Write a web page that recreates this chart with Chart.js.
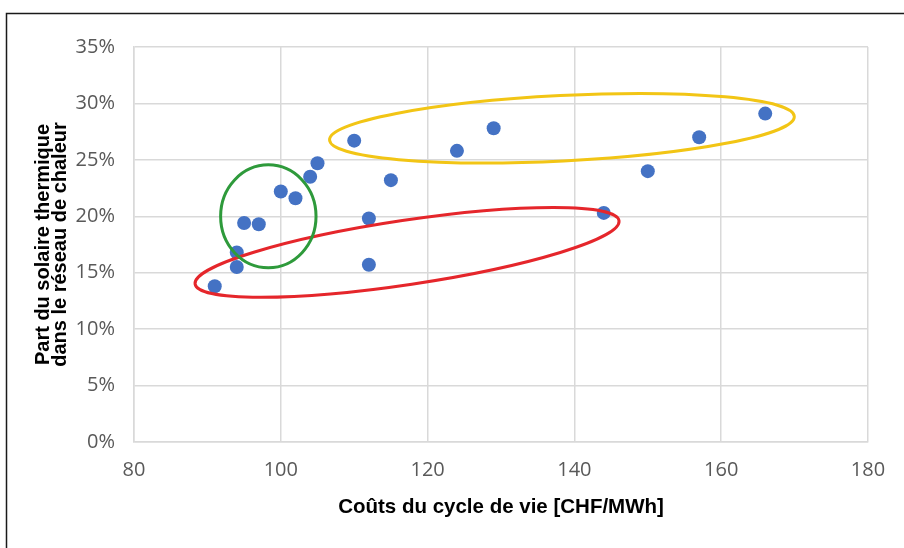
<!DOCTYPE html>
<html>
<head>
<meta charset="utf-8">
<script src="https://cdn.jsdelivr.net/npm/chart.js@4.4.0/dist/chart.umd.min.js"></script>
<style>
  html, body { margin: 0; padding: 0; background: #fff; }
  #wrap { width: 904px; height: 548px; }
</style>
</head>
<body>
<div id="wrap"><canvas id="scatterCanvas" width="904" height="548"></canvas></div>
<script>
/* --- DATA --- */
// Life-cycle cost [CHF/MWh] and solar share [%] per network
const costs = [91, 94, 94, 95, 97, 100, 102, 104, 105, 110, 112, 112, 115, 124, 129, 144, 150, 157, 166];
const solarShare = [13.8, 15.5, 16.8, 19.4, 19.3, 22.2, 21.6, 23.5, 24.7, 26.7, 19.8, 15.7, 23.2, 25.8, 27.8, 20.3, 24.0, 27.0, 29.1];

const xTicks = [80, 100, 120, 140, 160, 180];
const yTicks = [0, 5, 10, 15, 20, 25, 30, 35];

// Hand-drawn groups (in data units): yellow, red, green
const groupCx = [138.3, 117.2, 98.3];
const groupCy = [27.8, 16.8, 20.0];
const groupRx = [31.7, 29.2, 6.5];
const groupRy = [2.9, 2.85, 4.56];
const groupTilt = [-2.9, -8.5, 0];
const groupColors = ['#f2c515', '#e5262b', '#2e9a3b'];

/* --- PLUGINS --- */
const framePlugin = {
    id: 'frame',
    beforeDraw(chart) {
        const ctx = chart.ctx;
        ctx.save();
        ctx.strokeStyle = '#1a1a1a';
        ctx.lineWidth = 1.5;
        ctx.beginPath();
        ctx.moveTo(6.5, 548);
        ctx.lineTo(6.5, 13.5);
        ctx.lineTo(904, 13.5);
        ctx.stroke();
        ctx.restore();
    }
};

const ellipsePlugin = {
    id: 'groups',
    afterDatasetsDraw(chart) {
        const { ctx, scales: { x, y } } = chart;
        ctx.save();
        groupColors.forEach((col, i) => {
            const cx = x.getPixelForValue(groupCx[i]);
            const cy = y.getPixelForValue(groupCy[i]);
            const rx = Math.abs(x.getPixelForValue(groupCx[i] + groupRx[i]) - cx);
            const ry = Math.abs(y.getPixelForValue(groupCy[i] + groupRy[i]) - cy);
            ctx.beginPath();
            ctx.ellipse(cx, cy, rx, ry, groupTilt[i] * Math.PI / 180, 0, 2 * Math.PI);
            ctx.strokeStyle = col;
            ctx.lineWidth = 3;
            ctx.stroke();
        });
        ctx.restore();
    }
};

/* --- CHART --- */
const gridColor = '#d9d9d9';
const tickFont = { family: 'Open Sans', size: 20 };

new Chart(document.getElementById('scatterCanvas'), {
    type: 'scatter',
    data: {
        datasets: [{
            data: costs.map((c, i) => ({ x: c, y: solarShare[i] })),
            backgroundColor: '#4472c4',
            borderWidth: 0,
            pointRadius: 7,
            pointHoverRadius: 7
        }]
    },
    options: {
        responsive: false,
        devicePixelRatio: 1,
        animation: false,
        layout: { padding: { left: 10, top: 47, right: 36, bottom: 0 } },
        plugins: {
            legend: { display: false },
            tooltip: { enabled: false }
        },
        scales: {
            x: {
                type: 'linear',
                min: xTicks[0],
                max: xTicks[xTicks.length - 1],
                afterBuildTicks: s => { s.ticks = xTicks.map(v => ({ value: v })); },
                afterFit: s => { s.height = 106; },
                grid: { color: gridColor, lineWidth: 1.5, drawTicks: false },
                border: { color: gridColor, width: 1.5 },
                ticks: { color: '#595959', font: tickFont, padding: 16 },
                title: {
                    display: true,
                    text: 'Coûts du cycle de vie [CHF/MWh]',
                    color: '#000',
                    font: { family: 'Liberation Sans', size: 20.5, weight: 'bold', lineHeight: 1.2 },
                    padding: { top: 0, bottom: 28 }
                }
            },
            y: {
                type: 'linear',
                min: yTicks[0],
                max: yTicks[yTicks.length - 1],
                afterBuildTicks: s => { s.ticks = yTicks.map(v => ({ value: v })); },
                afterFit: s => { s.width = 124; },
                grid: { color: gridColor, lineWidth: 1.5, drawTicks: false },
                border: { color: gridColor, width: 1.5 },
                ticks: { color: '#595959', font: tickFont, padding: 19, callback: v => v + '%' },
                title: {
                    display: true,
                    text: ['Part du solaire thermique', 'dans le réseau de chaleur'],
                    color: '#000',
                    font: { family: 'Liberation Sans', size: 20, weight: 'bold', lineHeight: 0.85 },
                    padding: { top: 25, bottom: 0 }
                }
            }
        }
    },
    plugins: [framePlugin, ellipsePlugin]
});
</script>
</body>
</html>
